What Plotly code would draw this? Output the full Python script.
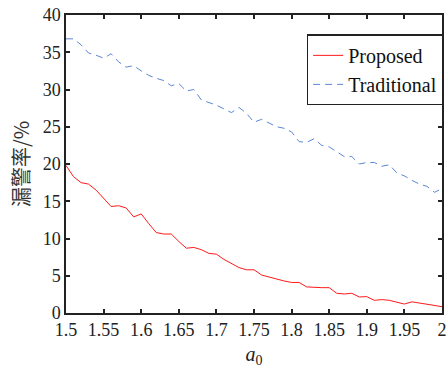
import plotly.graph_objects as go

a0 = [round(1.5 + 0.01 * i, 2) for i in range(51)]

proposed = [19.8, 18.3, 17.5, 17.3, 16.5, 15.4, 14.3, 14.4, 14.1, 12.9,
            13.3, 12.0, 10.8, 10.6, 10.6, 9.6, 8.7, 8.8, 8.5, 8.0,
            7.9, 7.2, 6.7, 6.1, 5.8, 5.8, 5.1, 4.8, 4.5, 4.3,
            4.1, 4.1, 3.5, 3.4, 3.4, 3.4, 2.65, 2.55, 2.65, 2.15,
            2.2, 1.7, 1.8, 1.7, 1.5, 1.2, 1.5, 1.35, 1.2, 1.1, 0.85]

traditional = [36.8, 36.8, 36.0, 34.9, 34.6, 34.2, 34.8, 33.7, 33.0, 33.2,
               32.5, 31.9, 31.5, 31.2, 30.5, 30.8, 29.8, 30.0, 28.6, 28.3,
               27.9, 27.4, 26.9, 27.6, 26.8, 25.6, 26.0, 25.5, 25.0, 24.8,
               24.3, 23.0, 22.9, 23.4, 22.5, 22.3, 21.7, 21.0, 21.0, 20.0,
               20.2, 20.2, 19.7, 19.9, 18.8, 18.4, 17.8, 17.3, 17.0, 16.2, 16.7]

x_tickvals = [1.5, 1.55, 1.6, 1.65, 1.7, 1.75, 1.8, 1.85, 1.9, 1.95, 2.0]
x_ticktext = ["1.5", "1.55", "1.6", "1.65", "1.7", "1.75", "1.8", "1.85", "1.9", "1.95", "2"]
y_tickvals = [0, 5, 10, 15, 20, 25, 30, 35, 40]

serif = "Liberation Serif, Times New Roman, serif"

fig = go.Figure()
fig.add_trace(go.Scatter(x=a0, y=proposed, mode="lines", name="Proposed",
                         line=dict(color="#ff1a1a", width=1)))
fig.add_trace(go.Scatter(x=a0, y=traditional, mode="lines", name="Traditional",
                         line=dict(color="#5b86d6", width=1, dash="7px,5px")))

axis_common = dict(showline=True, linecolor="#222222", linewidth=1.5, mirror="ticks",
                   ticks="inside", ticklen=4, tickwidth=1.5, tickcolor="#222222",
                   showgrid=False, zeroline=False, ticklabeloverflow="allow",
                   tickfont=dict(family=serif, size=18, color="#222222"))

fig.update_layout(
    width=448, height=368,
    margin=dict(l=66, r=2, t=15, b=55),
    paper_bgcolor="white", plot_bgcolor="white",
    xaxis=dict(range=[1.5, 2.00001], tickvals=x_tickvals, ticktext=x_ticktext,
               title=dict(text="<i>a</i><sub>0</sub>", font=dict(family=serif, size=20, color="#222222"),
                          standoff=8),
               **axis_common),
    yaxis=dict(range=[0, 40.00001], tickvals=y_tickvals,
               title=dict(text="漏警率/%", font=dict(family="Noto Sans CJK SC, serif", size=20, color="#333333"),
                          standoff=8),
               **axis_common),
    legend=dict(x=0.64, y=0.935, xanchor="left", yanchor="top",
                bgcolor="white", bordercolor="#222222", borderwidth=1.5,
                font=dict(family=serif, size=20, color="#111111"),
                tracegroupgap=0, itemwidth=30),
    showlegend=True,
)

fig.write_html("out.html")
